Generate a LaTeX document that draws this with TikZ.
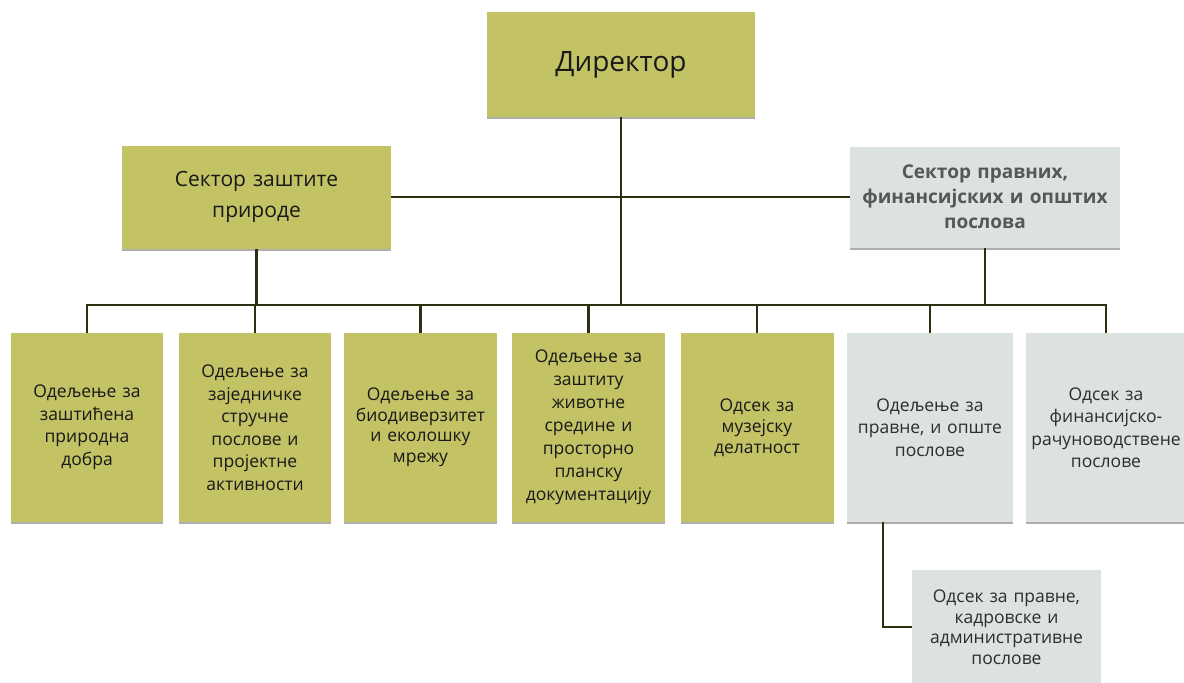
\documentclass[tikz,border=0pt]{standalone}
\usepackage{fontspec}
\setmainfont{Open Sans}
\usetikzlibrary{shadows}
\definecolor{oliveA}{HTML}{C3C265}
\definecolor{greyA}{HTML}{DCE2E0}
\definecolor{lineA}{HTML}{2E2E10}
\definecolor{txtA}{HTML}{2A2E2E}
\begin{document}
\begin{tikzpicture}[x=1pt,y=-1pt,
  box/.style={rectangle, inner sep=2pt, align=center, text=black!90,
    drop shadow={shadow xshift=0pt, shadow yshift=-2pt, opacity=0.45, fill=black!70}},
  greenbox/.style={box, fill=oliveA},
  greybox/.style={box, fill=greyA, text=txtA},
  deptfont/.style={font=\fontsize{17.5}{22.5}\selectfont},
  conn/.style={draw=lineA, line width=2.2pt}]
\useasboundingbox (0,0) rectangle (1184,683);
\fill[white] (0,0) rectangle (1184,683);

% top
\node[greenbox, minimum width=268pt, minimum height=105pt, font=\fontsize{28}{34}\selectfont] (dir) at (621,64.5) {Директор};

% sectors
\node[greenbox, minimum width=269pt, minimum height=103pt, text width=250pt, font=\fontsize{21}{31}\selectfont] (secL) at (256.5,197) {Сектор заштите\\природе};
\node[greybox, minimum width=270pt, minimum height=101pt, text width=266pt, font=\bfseries\fontsize{19}{25}\selectfont, text=black!66] (secR) at (985,197) {Сектор правних,\\финансијских и општих\\послова};

% departments
\node[greenbox, deptfont, minimum width=150pt, minimum height=189pt, text width=148pt] (d1) at (87,427.5) {Одељење за\\заштићена\\природна\\добра};
\node[greenbox, deptfont, minimum width=150pt, minimum height=189pt, text width=148pt] (d2) at (255,427.5) {Одељење за\\заједничке\\стручне\\послове и\\пројектне\\активности};
\node[greenbox, font=\fontsize{17.5}{20.5}\selectfont, minimum width=151pt, minimum height=189pt, text width=149pt] (d3) at (420.5,427.5) {Одељење за\\биодиверзитет\\и еколошку\\мрежу};
\node[greenbox, font=\fontsize{17.5}{23}\selectfont, minimum width=151pt, minimum height=189pt, text width=149pt] (d4) at (588.5,427.5) {Одељење за\\заштиту\\животне\\средине и\\просторно\\планску\\документацију};
\node[greenbox, font=\fontsize{17.5}{21}\selectfont, minimum width=151pt, minimum height=189pt, text width=149pt] (d5) at (757,427.5) {Одсек за\\музејску\\делатност};
\node[greybox, deptfont, minimum width=164pt, minimum height=189pt, text width=162pt] (d6) at (930,427.5) {Одељење за\\правне, и опште\\послове};
\node[greybox, deptfont, minimum width=156pt, minimum height=189pt, text width=156pt] (d7) at (1106,427.5) {Одсек за\\финансијско-\\рачуноводствене\\послове};

% sub
\node[greybox, font=\fontsize{17.5}{20.5}\selectfont, minimum width=187pt, minimum height=114pt, text width=185pt] (sub) at (1006.5,627) {Одсек за правне,\\кадровске и\\административне\\послове};

% connectors
\coordinate (bus) at (0,305);
\draw[conn] (dir.south) -- (dir.south |- bus);
\draw[conn] (secL.east) -- (secR.west);
\draw[conn] (secL.south) -- (secL.south |- bus);
\draw[conn] (secR.south) -- (secR.south |- bus);
\draw[conn] (d1.north) -- (d1.north |- bus) -- (d7.north |- bus) -- (d7.north);
\foreach \n in {d2,d3,d4,d5,d6} \draw[conn] (\n.north) -- (\n.north |- bus);
\draw[conn] ([xshift=-47pt]d6.south) |- (sub.west);
\end{tikzpicture}
\end{document}
